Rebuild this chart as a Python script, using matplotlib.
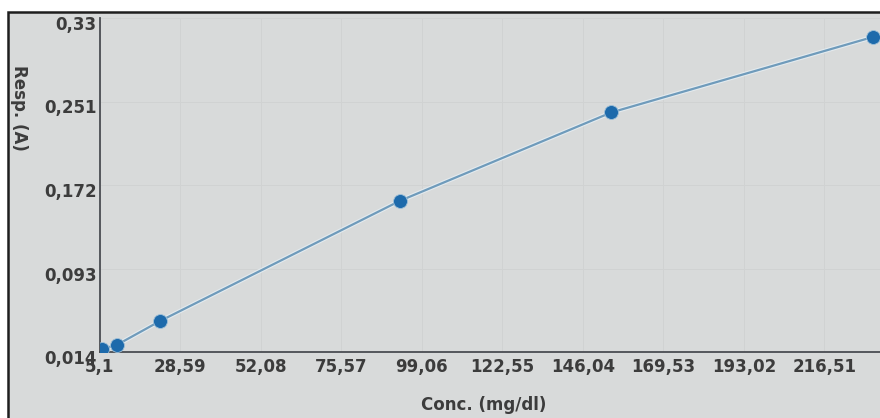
import matplotlib
matplotlib.use("Agg")
import matplotlib.pyplot as plt
import matplotlib.patheffects as pe
from matplotlib.patches import Rectangle
from matplotlib.transforms import ScaledTranslation

# calibration standards: concentration vs absorbance
conc = [5.8, 10.1, 22.7, 92.7, 154.4, 230.6]
resp = [0.017, 0.0206, 0.0432, 0.157, 0.2407, 0.312]

x_ticks = [5.1, 28.59, 52.08, 75.57, 99.06, 122.55, 146.04, 169.53, 193.02, 216.51]
y_ticks = [0.014, 0.093, 0.172, 0.251, 0.33]
x_labels = ["5,1", "28,59", "52,08", "75,57", "99,06", "122,55",
            "146,04", "169,53", "193,02", "216,51"]
y_labels = ["0,014", "0,093", "0,172", "0,251", "0,33"]

BG = "#d8dada"
INK = "#3c3c3c"
FONT = "DejaVu Sans"

W, H = 880, 418
fig = plt.figure(figsize=(W / 100, H / 100), dpi=100, facecolor="white")

# instrument screen panel
fig.patches.append(Rectangle((8 / W, -0.1), 1.2, 1.1 - 12 / H,
                             transform=fig.transFigure, facecolor=BG,
                             edgecolor="#1e1e1e", lw=1.8, zorder=-10))

left, bottom = 99.5 / W, (H - 352) / H
ax = fig.add_axes([left, bottom, (905 - 99.5) / W, (352 - 18) / H])
ax.set_facecolor(BG)
ax.patch.set_alpha(0)

ax.plot(conc, resp, color="#6f9bbb", lw=1.6, zorder=2,
        path_effects=[pe.Stroke(linewidth=3.2, foreground="#e4ebef"), pe.Normal()])
ax.plot(conc, resp, ls="none", marker="o", ms=10, color="#1d6aab",
        mec="#9fc0d8", mew=0.6, zorder=3)

ax.set_xlim(5.1, 240)
ax.set_ylim(0.014, 0.33)
ax.set_xticks(x_ticks)
ax.set_xticklabels(x_labels)
ax.set_yticks(y_ticks)
ax.set_yticklabels(y_labels)
ax.tick_params(length=0, pad=4, labelsize=12, labelcolor=INK)
for lab in ax.get_xticklabels() + ax.get_yticklabels():
    lab.set_fontfamily(FONT)
    lab.set_fontweight("bold")
ax.tick_params(axis="y", pad=2)
shift = ScaledTranslation(0, -5 / 100, fig.dpi_scale_trans)
for lab in ax.get_yticklabels():
    lab.set_transform(lab.get_transform() + shift)

ax.grid(True, color="#d0d2d2", lw=0.7)
ax.set_axisbelow(True)
for s in ["top", "right"]:
    ax.spines[s].set_visible(False)
for s in ["left", "bottom"]:
    ax.spines[s].set_color("#4a4d52")
    ax.spines[s].set_linewidth(1.3)

fig.text(19 / W, 1 - 108 / H, "Resp. (A)", rotation=-90, ha="center", va="center",
         fontsize=12, fontweight="bold", color=INK, family=FONT)
fig.text(484 / W, 1 - 405 / H, "Conc. (mg/dl)", ha="center", va="center",
         fontsize=12, fontweight="bold", color=INK, family=FONT)

fig.savefig("out.png", dpi=100, facecolor="white")
